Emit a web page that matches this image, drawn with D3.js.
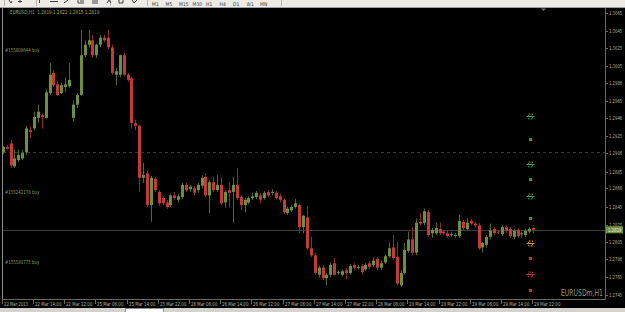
<!DOCTYPE html>
<html>
<head>
<meta charset="utf-8">
<script src="https://cdn.jsdelivr.net/npm/d3@7"></script>
<style>
  html, body { margin: 0; padding: 0; background: #000; overflow: hidden; }
  svg { display: block; }
  text { font-family: "Liberation Sans Narrow", "DejaVu Sans Condensed", "Liberation Sans", sans-serif; }
</style>
</head>
<body>
<div id="chart"></div>
<script>
const title = "EURUSD,H1  1.2819 1.2822 1.2815 1.2819";
const symbolLabel = "EURUSDm,H1";

// hourly candles, [open, high, low, close]
const ohlc = [
  [1.2907, 1.2914, 1.2905, 1.2913], [1.2913, 1.2915, 1.2910, 1.2911], [1.2917, 1.2921, 1.2889, 1.2892],
  [1.2891, 1.2910, 1.2889, 1.2900], [1.2898, 1.2910, 1.2896, 1.2904], [1.2900, 1.2910, 1.2898, 1.2906],
  [1.2907, 1.2937, 1.2904, 1.2934], [1.2932, 1.2936, 1.2923, 1.2930], [1.2934, 1.2953, 1.2932, 1.2947],
  [1.2946, 1.2961, 1.2940, 1.2953], [1.2949, 1.2951, 1.2934, 1.2947], [1.2946, 1.2978, 1.2945, 1.2975],
  [1.2974, 1.3008, 1.2972, 1.2995], [1.2997, 1.3000, 1.2981, 1.2983], [1.2984, 1.2987, 1.2971, 1.2972],
  [1.2974, 1.2986, 1.2973, 1.2983], [1.2981, 1.2992, 1.2975, 1.2984], [1.2982, 1.3008, 1.2980, 1.2989],
  [1.2946, 1.2966, 1.2942, 1.2961], [1.2961, 1.2974, 1.2957, 1.2972], [1.2972, 1.3046, 1.2971, 1.3017],
  [1.3017, 1.3034, 1.3015, 1.3029], [1.3029, 1.3046, 1.3026, 1.3034], [1.3034, 1.3040, 1.3015, 1.3017],
  [1.3017, 1.3030, 1.3014, 1.3029], [1.3029, 1.3040, 1.3026, 1.3037], [1.3037, 1.3040, 1.3032, 1.3034],
  [1.3037, 1.3046, 1.3024, 1.3026], [1.3026, 1.3029, 1.2995, 1.2997], [1.2995, 1.3003, 1.2983, 1.2999],
  [1.2995, 1.3018, 1.2992, 1.3017], [1.3017, 1.3020, 1.2993, 1.2995], [1.2995, 1.2997, 1.2987, 1.2989],
  [1.2991, 1.2993, 1.2934, 1.2940], [1.2940, 1.2944, 1.2932, 1.2937], [1.2937, 1.2938, 1.2862, 1.2878],
  [1.2878, 1.2895, 1.2872, 1.2881], [1.2883, 1.2886, 1.2845, 1.2847], [1.2847, 1.2880, 1.2828, 1.2878],
  [1.2877, 1.2879, 1.2862, 1.2864], [1.2862, 1.2864, 1.2846, 1.2849], [1.2855, 1.2857, 1.2847, 1.2849],
  [1.2850, 1.2853, 1.2843, 1.2845], [1.2847, 1.2860, 1.2845, 1.2858], [1.2858, 1.2862, 1.2853, 1.2855],
  [1.2853, 1.2860, 1.2850, 1.2857], [1.2856, 1.2872, 1.2854, 1.2870], [1.2870, 1.2872, 1.2862, 1.2864],
  [1.2865, 1.2870, 1.2862, 1.2868], [1.2866, 1.2869, 1.2858, 1.2861], [1.2864, 1.2872, 1.2861, 1.2870],
  [1.2869, 1.2881, 1.2866, 1.2878], [1.2879, 1.2883, 1.2856, 1.2858], [1.2858, 1.2875, 1.2838, 1.2873],
  [1.2873, 1.2879, 1.2862, 1.2864], [1.2864, 1.2881, 1.2862, 1.2870], [1.2870, 1.2879, 1.2847, 1.2849],
  [1.2850, 1.2864, 1.2844, 1.2862], [1.2864, 1.2873, 1.2845, 1.2861], [1.2862, 1.2879, 1.2827, 1.2870],
  [1.2870, 1.2889, 1.2853, 1.2855], [1.2856, 1.2858, 1.2841, 1.2847], [1.2847, 1.2855, 1.2839, 1.2853],
  [1.2850, 1.2857, 1.2848, 1.2855], [1.2855, 1.2861, 1.2853, 1.2857], [1.2856, 1.2863, 1.2854, 1.2861],
  [1.2858, 1.2861, 1.2849, 1.2853], [1.2855, 1.2863, 1.2853, 1.2861], [1.2862, 1.2864, 1.2856, 1.2858],
  [1.2861, 1.2865, 1.2858, 1.2862], [1.2861, 1.2863, 1.2853, 1.2855], [1.2857, 1.2860, 1.2850, 1.2853],
  [1.2853, 1.2855, 1.2837, 1.2839], [1.2838, 1.2845, 1.2836, 1.2843], [1.2841, 1.2847, 1.2839, 1.2845],
  [1.2845, 1.2854, 1.2843, 1.2849], [1.2847, 1.2849, 1.2815, 1.2822], [1.2822, 1.2836, 1.2815, 1.2835],
  [1.2833, 1.2846, 1.2796, 1.2798], [1.2798, 1.2811, 1.2788, 1.2790], [1.2790, 1.2793, 1.2768, 1.2770],
  [1.2768, 1.2778, 1.2765, 1.2776], [1.2776, 1.2779, 1.2762, 1.2764], [1.2764, 1.2770, 1.2756, 1.2768],
  [1.2768, 1.2782, 1.2765, 1.2779], [1.2781, 1.2787, 1.2767, 1.2768], [1.2770, 1.2773, 1.2768, 1.2771],
  [1.2768, 1.2774, 1.2766, 1.2772], [1.2773, 1.2776, 1.2763, 1.2770], [1.2770, 1.2780, 1.2768, 1.2778],
  [1.2779, 1.2781, 1.2773, 1.2776], [1.2776, 1.2779, 1.2774, 1.2777], [1.2778, 1.2780, 1.2768, 1.2771],
  [1.2774, 1.2781, 1.2772, 1.2779], [1.2781, 1.2784, 1.2774, 1.2777], [1.2779, 1.2788, 1.2777, 1.2784],
  [1.2786, 1.2788, 1.2773, 1.2776], [1.2776, 1.2784, 1.2773, 1.2781], [1.2782, 1.2791, 1.2780, 1.2789],
  [1.2789, 1.2805, 1.2787, 1.2798], [1.2799, 1.2813, 1.2785, 1.2787], [1.2788, 1.2805, 1.2756, 1.2758],
  [1.2756, 1.2773, 1.2754, 1.2770], [1.2770, 1.2804, 1.2768, 1.2796], [1.2795, 1.2817, 1.2793, 1.2808],
  [1.2808, 1.2822, 1.2790, 1.2793], [1.2793, 1.2832, 1.2790, 1.2827], [1.2828, 1.2838, 1.2824, 1.2826],
  [1.2827, 1.2843, 1.2824, 1.2840], [1.2839, 1.2841, 1.2811, 1.2813], [1.2815, 1.2821, 1.2810, 1.2819],
  [1.2815, 1.2827, 1.2813, 1.2821], [1.2820, 1.2827, 1.2813, 1.2815], [1.2817, 1.2819, 1.2813, 1.2815],
  [1.2815, 1.2818, 1.2810, 1.2812], [1.2813, 1.2817, 1.2811, 1.2814], [1.2812, 1.2815, 1.2810, 1.2813],
  [1.2812, 1.2836, 1.2810, 1.2829], [1.2828, 1.2830, 1.2819, 1.2821], [1.2820, 1.2832, 1.2818, 1.2827],
  [1.2829, 1.2831, 1.2824, 1.2826], [1.2826, 1.2828, 1.2822, 1.2824], [1.2824, 1.2827, 1.2796, 1.2798],
  [1.2799, 1.2805, 1.2793, 1.2804], [1.2802, 1.2813, 1.2799, 1.2811], [1.2811, 1.2826, 1.2808, 1.2818],
  [1.2820, 1.2822, 1.2813, 1.2815], [1.2817, 1.2819, 1.2814, 1.2816], [1.2814, 1.2824, 1.2812, 1.2822],
  [1.2822, 1.2824, 1.2815, 1.2818], [1.2820, 1.2822, 1.2810, 1.2812], [1.2811, 1.2820, 1.2808, 1.2818],
  [1.2819, 1.2821, 1.2810, 1.2812], [1.2814, 1.2817, 1.2810, 1.2815], [1.2813, 1.2820, 1.2811, 1.2818],
  [1.2817, 1.2822, 1.2815, 1.2820], [1.2821, 1.2822, 1.2815, 1.2819]
];

// one label every 8 bars
const timeLabels = [
  "22 Mar 2013", "22 Mar 14:00", "22 Mar 22:00", "25 Mar 06:00", "25 Mar 14:00", "25 Mar 22:00",
  "26 Mar 06:00", "26 Mar 14:00", "26 Mar 22:00", "27 Mar 06:00", "27 Mar 14:00", "27 Mar 22:00",
  "28 Mar 06:00", "28 Mar 14:00", "28 Mar 22:00", "29 Mar 06:00", "29 Mar 14:00", "29 Mar 22:00"
];
const priceTicks = [
  "1.3065", "1.3045", "1.3025", "1.3005", "1.2986", "1.2965", "1.2946", "1.2925", "1.2906",
  "1.2885", "1.2866", "1.2845", "1.2825", "1.2805", "1.2786", "1.2765", "1.2745"
];
const bidPrice = 1.2819;
const levelPrice = 1.2907;
const orderNotes = ["#155808644 buy", "#155242178 buy", "#155580775 buy"];
const orderNotePrices = [1.3021, 1.2860, 1.2780];
const markerPrices = [1.2948, 1.2922, 1.2894, 1.2877, 1.2857, 1.2832, 1.2804, 1.2787, 1.2769, 1.2751];
const markerKinds  = ["big", "small", "big", "small", "big", "small", "big", "small", "big", "small"];
const markerColors = ["buy", "buy", "buy", "buy", "buy", "buy", "mid", "sell", "sell", "sell"];
const toolbarTabs = ["M1", "M5", "M15", "M30", "H1", "H4", "D1", "W1", "MN"];

const width = 625, height = 312;
const plot = { left: 2, right: 605, top: 8, bottom: 299 };

const bull = "#6f8f3c", bear = "#c23a3a";
const bullWick = "#4f6b2a", bearWick = "#8c2d2d";
const axisText = "#aeb49a";
const markerFill = { buy: "#3f9f3f", mid: "#d08c2c", sell: "#c83232" };

// squeeze the small terminal font to the narrow width it has on screen
const narrow = (sel, perChar) => sel
  .attr("textLength", d => d.length * perChar)
  .attr("lengthAdjust", "spacingAndGlyphs");

const svg = d3.select("#chart")
  .append("svg")
  .attr("width", width)
  .attr("height", height);

svg.append("rect").attr("width", width).attr("height", height).attr("fill", "#000");

const x = d3.scaleLinear().domain([0, ohlc.length - 1]).range([2.7, 533.1]);
const y = d3.scaleLinear().domain([1.2745, 1.3065]).range([295, 13]);

// toolbar strip
const tb = svg.append("g");
tb.append("rect").attr("width", width).attr("height", 7).attr("fill", "#ecebe6");
tb.append("line").attr("x1", 0).attr("x2", width).attr("y1", 7.5).attr("y2", 7.5).attr("stroke", "#a0a0a0");
[4, 36, 110, 147, 281].forEach(px => {
  tb.append("line").attr("x1", px + 0.5).attr("x2", px + 0.5).attr("y1", 0).attr("y2", 6).attr("stroke", "#b0b0b0");
});
const icons = tb.append("g").attr("stroke", "#404040").attr("fill", "none");
icons.append("path").attr("d", "M9,0 L11,3 L12,1");
icons.append("path").attr("d", "M20,0 L20,3 M18,1.5 L22,1.5");
icons.append("path").attr("d", "M39.5,0 L39.5,3");
icons.append("path").attr("d", "M50,1.5 L58,1.5");
icons.append("path").attr("d", "M64,3 L68,0");
icons.append("path").attr("d", "M78,0 L78,3 L84,3 M80,1 L84,1");
icons.append("path").attr("d", "M92,1 L98,1 M92,3 L98,3");
icons.append("path").attr("d", "M107,3 L109,0 L111,3");
icons.append("path").attr("d", "M119,0 L119,3 L123,3 L123,0");
icons.append("path").attr("d", "M132,0 L134,3 L137,0");
tb.selectAll(".tf")
  .data(toolbarTabs)
  .join("text")
    .attr("class", "tf")
    .attr("x", (d, i) => 152 + i * 13.5)
    .attr("y", 5.5)
    .attr("font-size", 5)
    .attr("fill", "#404040")
    .text(d => d);

// frame
const frame = svg.append("g").attr("stroke", "#6b6b5a").attr("fill", "none");
frame.append("line").attr("x1", plot.left + 0.5).attr("x2", plot.left + 0.5).attr("y1", plot.top).attr("y2", plot.bottom).attr("stroke", "#8a8a8a");
frame.append("line").attr("x1", plot.right + 0.5).attr("x2", plot.right + 0.5).attr("y1", plot.top).attr("y2", plot.bottom + 0.5);
frame.append("line").attr("x1", plot.left).attr("x2", plot.right + 0.5).attr("y1", plot.bottom + 0.5).attr("y2", plot.bottom + 0.5);

// shift marker
svg.append("path")
  .attr("d", "M541,8.5 L546,8.5 L543.5,11 Z")
  .attr("fill", "#707070");

// dashed level and bid line
svg.append("line")
  .attr("x1", plot.left + 1).attr("x2", plot.right)
  .attr("y1", Math.round(y(levelPrice)) + 0.5).attr("y2", Math.round(y(levelPrice)) + 0.5)
  .attr("stroke", "#3a3a3a").attr("stroke-dasharray", "3,3");
svg.append("line")
  .attr("x1", plot.left + 1).attr("x2", plot.right)
  .attr("y1", Math.round(y(bidPrice)) + 0.5).attr("y2", Math.round(y(bidPrice)) + 0.5)
  .attr("stroke", "#3c3c3c");

// candles
const candles = svg.append("g")
  .selectAll("g")
  .data(ohlc)
  .join("g");

candles.append("line")
  .attr("x1", (d, i) => Math.round(x(i)) + 0.5)
  .attr("x2", (d, i) => Math.round(x(i)) + 0.5)
  .attr("y1", d => y(d[1]))
  .attr("y2", d => y(d[2]))
  .attr("stroke", d => d[3] >= d[0] ? bullWick : bearWick);

candles.append("rect")
  .attr("x", (d, i) => Math.round(x(i)) - 1)
  .attr("width", 3)
  .attr("y", d => y(Math.max(d[0], d[3])))
  .attr("height", d => Math.max(1, Math.abs(y(d[0]) - y(d[3]))))
  .attr("fill", d => d[3] >= d[0] ? bull : bear);

// order markers at the last bar
const mx = x(ohlc.length - 1) - 3;
markerPrices.forEach((p, i) => {
  const cy = Math.round(y(p)) + 0.5;
  const col = markerFill[markerColors[i]];
  if (markerKinds[i] === "big") {
    svg.append("rect").attr("x", mx - 1.5).attr("y", cy - 2.5).attr("width", 4).attr("height", 5)
      .attr("fill", "none").attr("stroke", col).attr("stroke-dasharray", "2,1");
    svg.append("line").attr("x1", mx - 3.5).attr("x2", mx + 4.5).attr("y1", cy).attr("y2", cy).attr("stroke", col);
  } else {
    svg.append("rect").attr("x", mx - 1).attr("y", cy - 1.5).attr("width", 3).attr("height", 3).attr("fill", col);
  }
});

// price axis
const pa = svg.append("g");
pa.selectAll("line")
  .data(priceTicks)
  .join("line")
    .attr("x1", plot.right).attr("x2", plot.right + 3)
    .attr("y1", d => Math.round(y(+d)) + 0.5).attr("y2", d => Math.round(y(+d)) + 0.5)
    .attr("stroke", "#6b6b5a");
narrow(pa.selectAll("text")
  .data(priceTicks)
  .join("text")
    .attr("x", plot.right + 4)
    .attr("y", d => y(+d) + 2)
    .attr("font-size", 5.5)
    .attr("fill", axisText)
    .text(d => d), 2.2);

// bid label box
svg.append("rect")
  .attr("x", plot.right + 1).attr("y", y(bidPrice) - 3.5)
  .attr("width", 17).attr("height", 7)
  .attr("fill", "#6f8f3c");
narrow(svg.append("text")
  .datum(d3.format(".4f")(bidPrice))
  .attr("x", plot.right + 3).attr("y", y(bidPrice) + 2)
  .attr("font-size", 5.5).attr("fill", "#f0f4e6")
  .text(d => d), 2.2);

// time axis
const ta = svg.append("g");
ta.selectAll("line")
  .data(timeLabels)
  .join("line")
    .attr("x1", (d, i) => Math.round(x(i * 8)) - 0.5)
    .attr("x2", (d, i) => Math.round(x(i * 8)) - 0.5)
    .attr("y1", plot.bottom).attr("y2", plot.bottom + 5)
    .attr("stroke", "#6b6b5a");
narrow(ta.selectAll("text")
  .data(timeLabels)
  .join("text")
    .attr("x", (d, i) => Math.round(x(i * 8)) + 1)
    .attr("y", plot.bottom + 7)
    .attr("font-size", 5.5)
    .attr("fill", axisText)
    .text(d => d), 2.2);

// texts
narrow(svg.append("text")
  .datum(title)
  .attr("x", 10).attr("y", 14)
  .attr("font-size", 5.5).attr("fill", "#a2ac72")
  .attr("xml:space", "preserve")
  .text(d => d), 2.35);

narrow(svg.selectAll(".note")
  .data(orderNotes)
  .join("text")
    .attr("class", "note")
    .attr("x", 5)
    .attr("y", (d, i) => y(orderNotePrices[i]))
    .attr("font-size", 5.5)
    .attr("fill", "#8e9a5e")
    .text(d => d), 2.45);

narrow(svg.append("text")
  .datum(symbolLabel)
  .attr("x", 561).attr("y", 296)
  .attr("font-size", 8).attr("fill", "#8f967e")
  .text(d => d), 4.2);

// status strip with tab
svg.append("rect").attr("y", 308).attr("width", width).attr("height", 4).attr("fill", "#d4d2cc");
svg.append("rect").attr("x", 125.5).attr("y", 308.5).attr("width", 38).attr("height", 4)
  .attr("fill", "#ffffff").attr("stroke", "#909090");
</script>
</body>
</html>
